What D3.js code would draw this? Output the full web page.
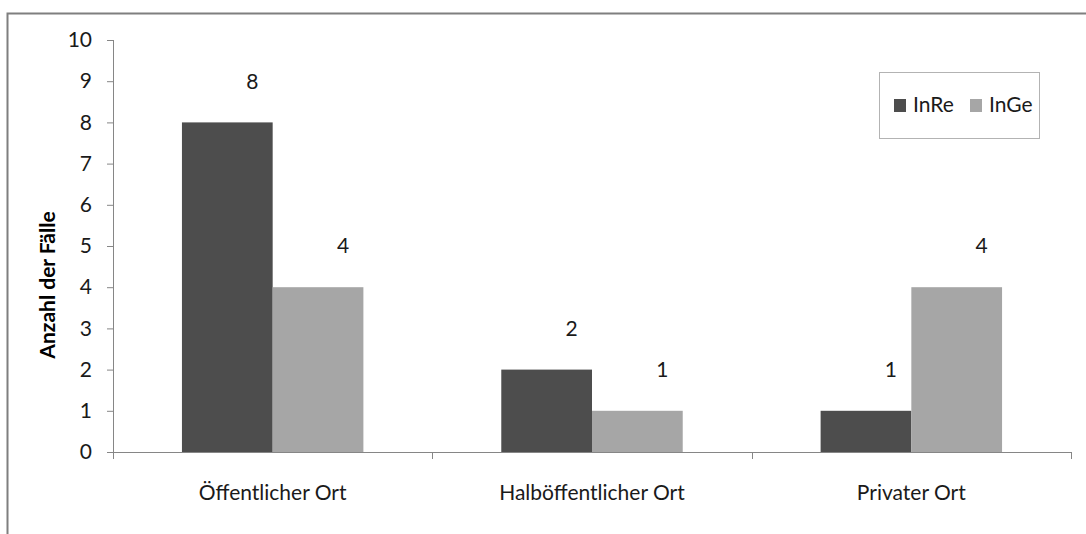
<!DOCTYPE html>
<html>
<head>
<meta charset="utf-8">
<script src="https://cdn.jsdelivr.net/npm/d3@7"></script>
<style>
  body { margin: 0; background: #fff; }
  text { font-family: Lato, "Open Sans", sans-serif; fill: #1a1a1a; }
</style>
</head>
<body>
<svg id="chart" width="1086" height="534"></svg>
<script>
var categories = ["Öffentlicher Ort", "Halböffentlicher Ort", "Privater Ort"];
var seriesNames = ["InRe", "InGe"];
var inRe = [8, 2, 1];
var inGe = [4, 1, 4];
var yTicks = [0, 1, 2, 3, 4, 5, 6, 7, 8, 9, 10];
var colors = ["#4d4d4d", "#a6a6a6"];

var svg = d3.select("#chart");
var margin = {top: 40, right: 15, bottom: 82, left: 113};
var width = 1086 - margin.left - margin.right,
    height = 534 - margin.top - margin.bottom;

// outer frame (only top and left visible)
svg.append("path")
   .attr("d", "M7.5,534 L7.5,13.5 L1086,13.5")
   .attr("fill", "none")
   .attr("stroke", "#7f7f7f")
   .attr("stroke-width", 2);

var g = svg.append("g").attr("transform", "translate(" + margin.left + "," + margin.top + ")");

var x0 = d3.scaleBand().domain(categories).range([0, width]).paddingInner(0).paddingOuter(0);
var x1 = d3.scaleBand().domain(seriesNames).range([0, x0.bandwidth()]).paddingInner(0).paddingOuter(0.76);
var y = d3.scaleLinear().domain([0, 10]).range([height, 0]);

var data = categories.map(function(c, i){
  return {cat: c, values: [{s: "InRe", v: inRe[i]}, {s: "InGe", v: inGe[i]}]};
});

// y axis
var yAxis = g.append("g")
  .call(d3.axisLeft(y).tickValues(yTicks).tickSize(6).tickPadding(15).tickFormat(d3.format("d")));
yAxis.select(".domain").attr("stroke", "#868686").attr("d", "M0.5,0V" + height);
yAxis.selectAll(".tick line").attr("stroke", "#868686");
yAxis.selectAll(".tick text").style("font-size", "21px").attr("fill", "#1a1a1a");

// bars
var groups = g.selectAll(".grp").data(data).enter().append("g")
  .attr("class", "grp")
  .attr("transform", function(d){ return "translate(" + x0(d.cat) + ",0)"; });

groups.selectAll("rect").data(function(d){ return d.values; }).enter().append("rect")
  .attr("x", function(d){ return x1(d.s); })
  .attr("y", function(d){ return y(d.v); })
  .attr("width", x1.bandwidth())
  .attr("height", function(d){ return height - y(d.v); })
  .attr("fill", function(d, i){ return colors[i]; });

// value labels (one unit above bar, right of centre)
groups.selectAll(".lbl").data(function(d){ return d.values; }).enter().append("text")
  .attr("class", "lbl")
  .attr("x", function(d){ return x1(d.s) + x1.bandwidth() / 2 + 25; })
  .attr("y", function(d){ return y(d.v + 1); })
  .attr("dy", "0.35em")
  .attr("text-anchor", "middle")
  .style("font-size", "21px")
  .text(function(d){ return d.v; });

// x axis
var xAxis = g.append("g").attr("transform", "translate(0," + height + ")");
xAxis.append("line").attr("x1", 0).attr("x2", width).attr("y1", 0.5).attr("y2", 0.5)
  .attr("stroke", "#868686");
var bounds = categories.map(function(c){ return x0(c); }).concat([width]);
xAxis.selectAll(".xt").data(bounds).enter().append("line")
  .attr("x1", function(d){ return Math.round(d) + 0.5; })
  .attr("x2", function(d){ return Math.round(d) + 0.5; })
  .attr("y1", 0).attr("y2", 7)
  .attr("stroke", "#868686");
xAxis.selectAll(".xl").data(categories).enter().append("text")
  .attr("x", function(d){ return x0(d) + x0.bandwidth() / 2; })
  .attr("y", 48)
  .attr("text-anchor", "middle")
  .style("font-size", "21px")
  .text(function(d){ return d; });

// y axis title
svg.append("text")
  .attr("transform", "translate(55,285) rotate(-90)")
  .attr("text-anchor", "middle")
  .style("font-size", "21px")
  .style("font-weight", "bold")
  .style("fill", "#000")
  .text("Anzahl der Fälle");

// legend
var legend = svg.append("g").attr("transform", "translate(879,72)");
legend.append("rect").attr("x", 0.5).attr("y", 0.5).attr("width", 160).attr("height", 66)
  .attr("fill", "#fff").attr("stroke", "#b3b3b3");
var items = legend.selectAll(".li").data(seriesNames).enter().append("g")
  .attr("transform", function(d, i){ return "translate(" + (15 + i * 76) + ",27)"; });
items.append("rect").attr("width", 12).attr("height", 13)
  .attr("fill", function(d, i){ return colors[i]; });
items.append("text").attr("x", 19).attr("y", 6).attr("dy", "0.35em")
  .style("font-size", "21px")
  .text(function(d){ return d; });
</script>
</body>
</html>
